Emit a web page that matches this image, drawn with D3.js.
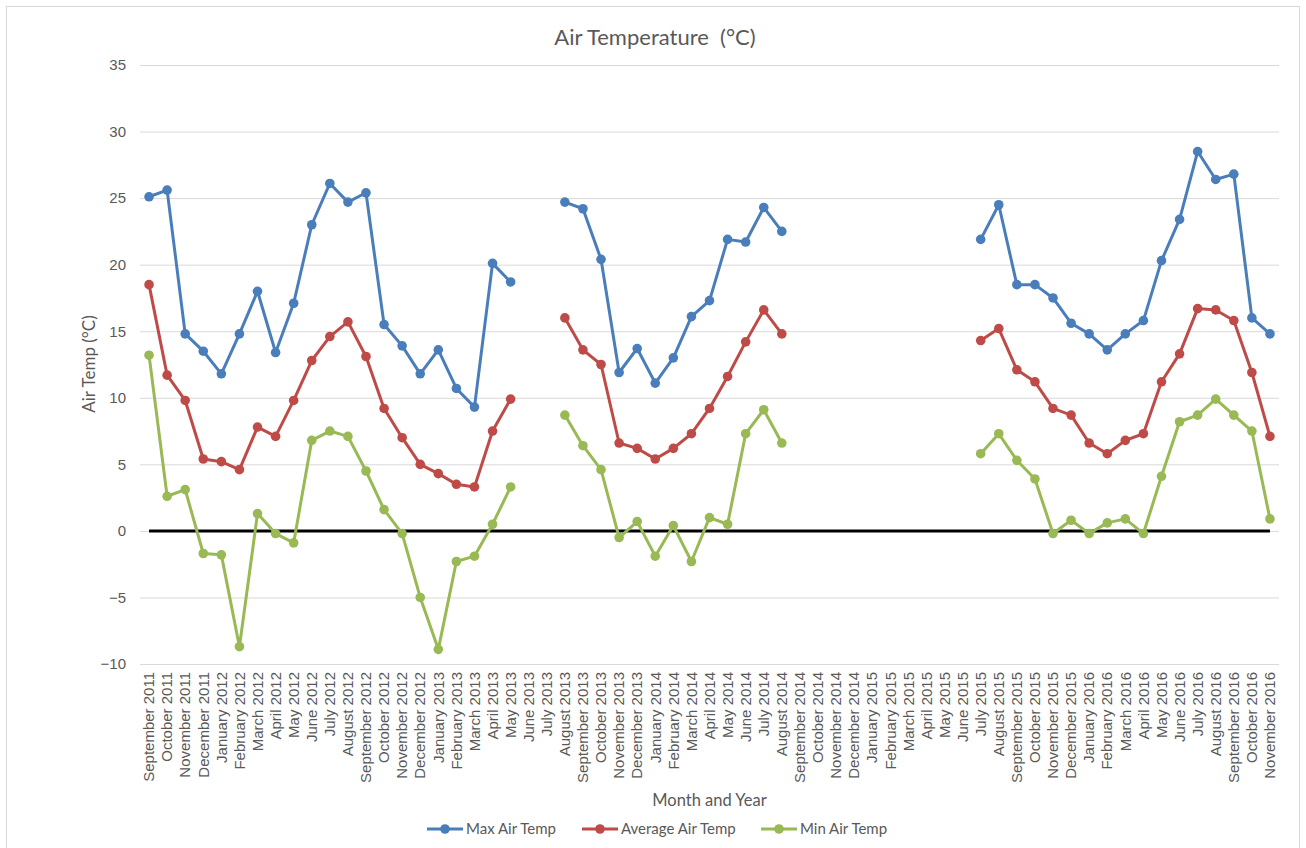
<!DOCTYPE html>
<html>
<head>
<meta charset="utf-8">
<title>Air Temperature</title>
<script src="https://cdn.jsdelivr.net/npm/d3@7"></script>
<style>
    html, body { margin: 0; padding: 0; background: #fff; }
    svg { display: block; font-family: Lato, "Open Sans", sans-serif; }
</style>
</head>
<body>
<div id="chart"></div>
<script>
// month categories, Sep 2011 .. Nov 2016
const months = [
    "September 2011", "October 2011", "November 2011", "December 2011",
    "January 2012", "February 2012", "March 2012", "April 2012", "May 2012", "June 2012",
    "July 2012", "August 2012", "September 2012", "October 2012", "November 2012", "December 2012",
    "January 2013", "February 2013", "March 2013", "April 2013", "May 2013", "June 2013",
    "July 2013", "August 2013", "September 2013", "October 2013", "November 2013", "December 2013",
    "January 2014", "February 2014", "March 2014", "April 2014", "May 2014", "June 2014",
    "July 2014", "August 2014", "September 2014", "October 2014", "November 2014", "December 2014",
    "January 2015", "February 2015", "March 2015", "April 2015", "May 2015", "June 2015",
    "July 2015", "August 2015", "September 2015", "October 2015", "November 2015", "December 2015",
    "January 2016", "February 2016", "March 2016", "April 2016", "May 2016", "June 2016",
    "July 2016", "August 2016", "September 2016", "October 2016", "November 2016"
];

// monthly values (°C), null = no data
const maxAirTemp = [
    25.1, 25.6, 14.8, 13.5, 11.8, 14.8, 18.0, 13.4, 17.1, 23.0, 26.1, 24.7, 25.4, 15.5, 13.9, 11.8,
    13.6, 10.7, 9.3, 20.1, 18.7, null, null, 24.7, 24.2, 20.4, 11.9, 13.7, 11.1, 13.0, 16.1, 17.3,
    21.9, 21.7, 24.3, 22.5, null, null, null, null, null, null, null, null, null, null,
    21.9, 24.5, 18.5, 18.5, 17.5, 15.6, 14.8, 13.6, 14.8, 15.8, 20.3, 23.4, 28.5, 26.4, 26.8, 16.0, 14.8
];
const avgAirTemp = [
    18.5, 11.7, 9.8, 5.4, 5.2, 4.6, 7.8, 7.1, 9.8, 12.8, 14.6, 15.7, 13.1, 9.2, 7.0, 5.0,
    4.3, 3.5, 3.3, 7.5, 9.9, null, null, 16.0, 13.6, 12.5, 6.6, 6.2, 5.4, 6.2, 7.3, 9.2,
    11.6, 14.2, 16.6, 14.8, null, null, null, null, null, null, null, null, null, null,
    14.3, 15.2, 12.1, 11.2, 9.2, 8.7, 6.6, 5.8, 6.8, 7.3, 11.2, 13.3, 16.7, 16.6, 15.8, 11.9, 7.1
];
const minAirTemp = [
    13.2, 2.6, 3.1, -1.7, -1.8, -8.7, 1.3, -0.2, -0.9, 6.8, 7.5, 7.1, 4.5, 1.6, -0.2, -5.0,
    -8.9, -2.3, -1.9, 0.5, 3.3, null, null, 8.7, 6.4, 4.6, -0.5, 0.7, -1.9, 0.4, -2.3, 1.0,
    0.5, 7.3, 9.1, 6.6, null, null, null, null, null, null, null, null, null, null,
    5.8, 7.3, 5.3, 3.9, -0.2, 0.8, -0.2, 0.6, 0.9, -0.2, 4.1, 8.2, 8.7, 9.9, 8.7, 7.5, 0.9
];

const yTicks = [-10, -5, 0, 5, 10, 15, 20, 25, 30, 35];

const series = [
    { name: "Max Air Temp", values: maxAirTemp, color: "#4a7ebb" },
    { name: "Average Air Temp", values: avgAirTemp, color: "#be4b48" },
    { name: "Min Air Temp", values: minAirTemp, color: "#98b954" }
];

const width = 1306, height = 848;
const plot = { left: 140, right: 1279, top: 65, bottom: 664 };
const textColor = "#595959";

const svg = d3.select("#chart").append("svg")
    .attr("width", width)
    .attr("height", height);

// outer chart border
svg.append("rect")
    .attr("x", 6.5)
    .attr("y", 6.5)
    .attr("width", 1293)
    .attr("height", 870)
    .attr("fill", "#fff")
    .attr("stroke", "#d9d9d9");

const x = d3.scaleBand()
    .domain(months)
    .range([plot.left, plot.right]);
const cx = m => x(m) + x.bandwidth() / 2;

const y = d3.scaleLinear()
    .domain([-10, 35])
    .range([plot.bottom, plot.top]);

// horizontal gridlines + y labels
const yAxis = d3.axisLeft(y)
    .tickValues(yTicks)
    .tickSize(-(plot.right - plot.left))
    .tickPadding(14);

svg.append("g")
    .attr("class", "y-axis")
    .attr("transform", `translate(${plot.left},0)`)
    .call(yAxis)
    .call(g => g.select(".domain").remove())
    .call(g => g.selectAll("line").attr("stroke", "#d9d9d9"))
    .call(g => g.selectAll("text")
        .attr("fill", textColor)
        .style("font-size", "15px"));

// x labels, rotated
const xAxis = d3.axisBottom(x)
    .tickSize(0)
    .tickPadding(0);

svg.append("g")
    .attr("class", "x-axis")
    .attr("transform", `translate(0,${plot.bottom})`)
    .call(xAxis)
    .call(g => g.select(".domain").remove())
    .call(g => g.selectAll("text")
        .attr("fill", textColor)
        .style("font-size", "15px")
        .attr("text-anchor", "end")
        .attr("transform", "rotate(-90)")
        .attr("x", -8)
        .attr("y", 0)
        .attr("dy", "0.35em"));

// zero reference line
svg.append("line")
    .attr("x1", cx(months[0]))
    .attr("x2", cx(months[months.length - 1]))
    .attr("y1", y(0))
    .attr("y2", y(0))
    .attr("stroke", "#000")
    .attr("stroke-width", 3);

const line = d3.line()
    .defined(d => d != null)
    .x((d, i) => cx(months[i]))
    .y(d => y(d));

series.forEach(s => {
    const g = svg.append("g").attr("class", "series");
    g.append("path")
        .attr("d", line(s.values))
        .attr("fill", "none")
        .attr("stroke", s.color)
        .attr("stroke-width", 3)
        .attr("stroke-linejoin", "round");
    g.selectAll("circle")
        .data(s.values.map((v, i) => ({ v, m: months[i] })).filter(d => d.v != null))
        .enter()
        .append("circle")
        .attr("cx", d => cx(d.m))
        .attr("cy", d => y(d.v))
        .attr("r", 4.8)
        .attr("fill", s.color);
});

// titles
svg.append("text")
    .attr("x", 655)
    .attr("y", 45)
    .attr("text-anchor", "middle")
    .attr("fill", textColor)
    .style("font-size", "22px")
    .style("white-space", "pre")
    .text("Air Temperature  (°C)");

svg.append("text")
    .attr("transform", `translate(95,364) rotate(-90)`)
    .attr("text-anchor", "middle")
    .attr("fill", textColor)
    .style("font-size", "17px")
    .text("Air Temp (°C)");

svg.append("text")
    .attr("x", (plot.left + plot.right) / 2)
    .attr("y", 806)
    .attr("text-anchor", "middle")
    .attr("fill", textColor)
    .style("font-size", "16.5px")
    .text("Month and Year");

// legend
const legendX = [427, 582, 761];
const legend = svg.append("g").attr("class", "legend");
series.forEach((s, i) => {
    const item = legend.append("g")
        .attr("transform", `translate(${legendX[i]},829)`);
    item.append("line")
        .attr("x1", 0)
        .attr("x2", 36)
        .attr("stroke", s.color)
        .attr("stroke-width", 3);
    item.append("circle")
        .attr("cx", 18)
        .attr("r", 4.8)
        .attr("fill", s.color);
    item.append("text")
        .attr("x", 39)
        .attr("dy", "0.35em")
        .attr("fill", textColor)
        .style("font-size", "15px")
        .text(s.name);
});
</script>
</body>
</html>
